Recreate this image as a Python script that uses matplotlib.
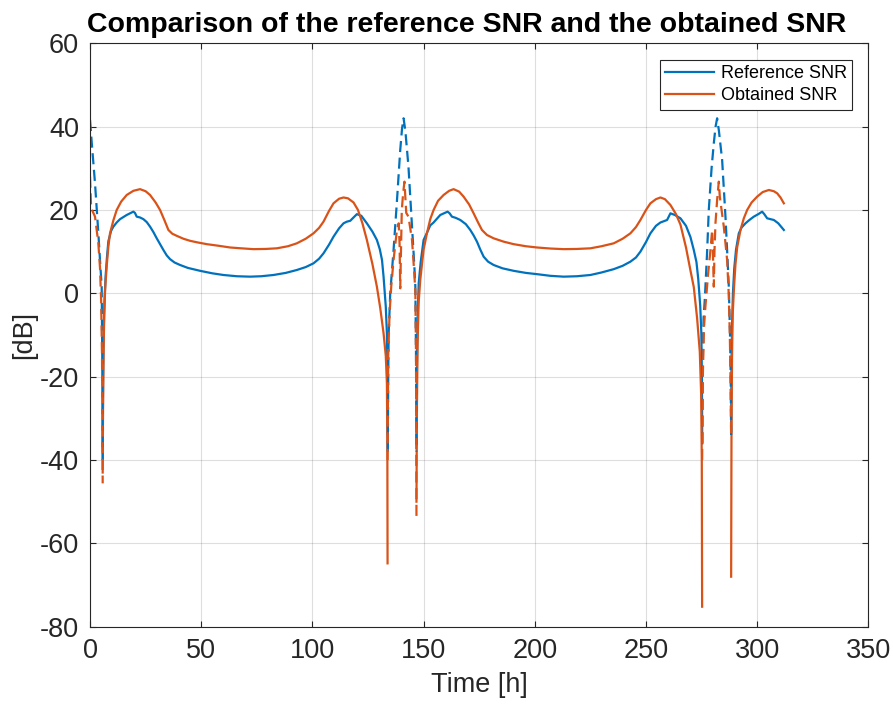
import numpy as np
import matplotlib
matplotlib.use("Agg")
import matplotlib.pyplot as plt

plt.rcParams['font.family'] = ['Liberation Sans', 'DejaVu Sans']
plt.rcParams['axes.unicode_minus'] = False

# (time [h], SNR [dB])
# solid parts = visible arcs, dashed parts = gaps between them
ref_gap0 = np.array([(0, 41.6), (0.8, 36), (2.25, 26.4), (3.75, 14.4), (4.6, 7), (5.25, 1.6),
                     (5.5, -15), (5.7, -40)])
obt_gap0 = np.array([(0, 28), (0.2, 25), (0.5, 20.5), (1.5, 19.3), (2.25, 18.4), (3.75, 12),
                     (4.5, 6), (5.0, -1.6), (5.4, -15), (5.7, -45.6)])

ref_arc1 = np.array([(5.7, -38), (5.85, -22), (6.1, -10), (6.5, -2), (7.0, 4), (7.6, 8.5),
                     (8.25, 12.5), (9.5, 15), (10.5, 16), (12, 17), (13.5, 17.8), (16.5, 18.8),
                     (19.5, 19.6), (20.2, 19.3), (21, 18.4), (22.5, 18.2), (24, 17.8),
                     (25.5, 17.1), (27, 16), (28.5, 14.7), (30, 13.2), (31.5, 11.8), (33, 10.4),
                     (34.5, 9.1), (36, 8.2), (38, 7.4), (40.5, 6.8), (44, 6.1), (49.5, 5.4),
                     (55, 4.8), (60, 4.4), (66, 4.1), (72, 4.0), (77, 4.1), (82.5, 4.4),
                     (88, 4.9), (93, 5.6), (97, 6.3), (100.5, 7.2), (103, 8.3), (105, 9.6),
                     (107.5, 11.7), (109.5, 13.6), (112, 15.6), (114, 16.8), (115.5, 17.2),
                     (117, 17.4), (118.5, 18.2), (120, 19.0), (122, 18.6), (124.5, 16.8),
                     (127, 14.8), (129, 12.8), (130.3, 10.6), (131.3, 8), (132, 4), (133, -3.2),
                     (133.5, -9.6), (133.75, -20), (133.9, -37)])
obt_arc1 = np.array([(5.7, -43), (5.85, -28), (6.1, -14), (6.4, -5), (6.8, 1), (7.5, 6.5),
                     (8.25, 11.2), (9, 14.4), (10.5, 17.5), (12, 20), (14, 22), (16.5, 23.6),
                     (19.5, 24.6), (22.5, 25), (25, 24.5), (27, 23.6), (29.5, 21.8), (31.5, 20),
                     (33.5, 17.5), (35.25, 15.2), (37, 14.3), (39, 13.8), (42, 13.1), (45, 12.6),
                     (48.5, 12.2), (52.5, 11.8), (58, 11.4), (63, 11.0), (68, 10.8), (73.5, 10.6),
                     (79, 10.65), (84, 10.8), (89, 11.3), (93, 12.0), (97, 13.1), (100.5, 14.4),
                     (103, 15.7), (105, 17.2), (107.5, 19.8), (109.5, 21.6), (112, 22.7),
                     (114, 23), (116, 22.8), (118.5, 21.8), (120.5, 20), (122.5, 16.8),
                     (124.5, 12.8), (127, 7), (129, 1.6), (130.5, -3.5), (132, -9.6), (133, -15),
                     (133.5, -21.6), (133.7, -35), (133.8, -64.8)])

ref_gap1 = np.array([(133.9, -38), (134.1, -20), (134.3, -9.6), (135, 0), (136.5, 10.4),
                     (138, 22), (139.5, 34.4), (140.3, 39.5), (141.0, 42), (141.8, 39),
                     (143.2, 30.4), (144.8, 16), (145.8, 7), (146.3, 1.6), (146.6, -15),
                     (146.8, -38)])
obt_gap1 = np.array([(133.8, -40), (134.1, -15), (134.7, -4.8), (135.5, 2), (136.5, 8),
                     (138, 15.2), (138.8, 16.8), (139.2, 12), (139.5, 1.2), (139.9, 12),
                     (140.2, 20), (140.8, 24), (141.4, 26.8), (141.8, 23), (142.2, 19.3),
                     (143.2, 18.4), (144.8, 12.8), (145.8, 5), (146.3, 0.4), (146.6, -15),
                     (146.8, -53.6)])

ref_arc2 = np.array([(146.8, -36), (147.0, -18), (147.3, -6), (147.8, 2.4), (148.7, 7.5),
                     (150, 12.8), (151.5, 14.5), (153, 16.3), (154.5, 17), (157.5, 18.8),
                     (160.8, 19.6), (161.7, 19.2), (162.75, 18.4), (164.5, 18.1), (166.5, 17.6),
                     (169, 16.6), (171, 15.2), (172.5, 13.9), (174, 12.4), (175.5, 10.5),
                     (177, 8.8), (179, 7.6), (181.5, 6.8), (185.5, 6.0), (190.5, 5.4),
                     (196, 4.9), (201, 4.6), (207, 4.2), (213, 4.0), (219, 4.1), (225, 4.4),
                     (230, 5.0), (235.5, 5.8), (239.5, 6.6), (243, 7.6), (245.5, 8.6),
                     (247.5, 10), (250, 12.3), (252, 14.4), (254.5, 16.2), (256.5, 17),
                     (259.5, 17.6), (261, 19.2), (263, 18.8), (265.5, 18), (268, 16.2),
                     (270, 13.5), (271.5, 10.4), (272.7, 7.5), (273.5, 3.5), (274.4, -3),
                     (274.9, -9.6), (275.15, -20), (275.3, -36)])
obt_arc2 = np.array([(146.8, -50), (147.0, -28), (147.3, -12), (147.8, -2), (148.5, 3.2),
                     (150, 10.5), (151.5, 14.4), (153, 17.8), (154.5, 20), (156.5, 22.2),
                     (159, 23.6), (161.5, 24.6), (163.5, 25), (166, 24.4), (168, 23.2),
                     (170.5, 21.3), (172.5, 19.2), (174.5, 17), (176.25, 15.2), (178.5, 14),
                     (181.5, 13.2), (186, 12.4), (190.5, 11.8), (196, 11.3), (201, 11.0),
                     (207, 10.75), (213, 10.6), (219, 10.65), (225, 10.8), (230, 11.3),
                     (235.5, 12), (239.5, 13.1), (243, 14.4), (245.5, 15.9), (247.5, 17.6),
                     (250, 20), (252, 21.6), (254.5, 22.6), (256.5, 23), (258.5, 22.6),
                     (261, 21.2), (263.5, 19), (265.5, 16.5), (268, 11), (270, 5.5),
                     (271.5, 1.5), (273, -6), (274.2, -14), (274.8, -24), (275.1, -40),
                     (275.25, -75.2)])

ref_gap2 = np.array([(275.3, -36), (275.5, -18), (275.9, -6), (276.5, -1), (277.5, 10),
                     (278.25, 20), (279.5, 30), (280.5, 36), (281.3, 40), (282, 42),
                     (282.8, 39), (284.25, 32), (285.75, 18.4), (286.7, 8), (287.25, 1.6),
                     (287.8, -10), (288.1, -20), (288.3, -34)])
obt_gap2 = np.array([(275.25, -40), (275.6, -19), (276.1, -8), (276.75, -3), (278, 5),
                     (279, 10.4), (279.75, 15.2), (280.1, 10), (280.5, 1.6), (280.8, 10),
                     (281.25, 16.8), (282, 22.4), (282.75, 26.8), (283.2, 23.2), (283.8, 20.8),
                     (285, 16), (286.5, 8), (287.2, 0), (287.7, -9.6), (288.0, -20),
                     (288.3, -34)])

ref_arc3 = np.array([(288.3, -33), (288.45, -18), (288.7, -8), (289.1, 0), (289.7, 6),
                     (290.5, 10.5), (291.75, 14.4), (293, 15.8), (294.75, 16.8), (296.5, 17.6),
                     (298.5, 18.4), (300.5, 19.0), (302.25, 19.6), (303.2, 19.0), (304.5, 18.0),
                     (306, 17.8), (307.5, 17.6), (309.5, 16.8), (312, 15.2)])
obt_arc3 = np.array([(288.3, -68), (288.45, -35), (288.7, -15), (289.0, -5), (289.6, 1.5),
                     (290.25, 7), (291, 11), (292.5, 15.2), (294, 18), (295.5, 20),
                     (297.5, 21.8), (300, 23.2), (302.5, 24.3), (305.25, 24.8), (307.5, 24.5),
                     (309, 24), (310.5, 23), (312, 21.6)])

ref_arcs = [ref_arc1, ref_arc2, ref_arc3]
obt_arcs = [obt_arc1, obt_arc2, obt_arc3]
ref_gaps = [ref_gap0, ref_gap1, ref_gap2]
obt_gaps = [obt_gap0, obt_gap1, obt_gap2]

x_ticks = np.arange(0, 351, 50)
y_ticks = np.arange(-80, 61, 20)

blue = '#0072BD'
orange = '#D95319'
axcol = '#262626'

fig = plt.figure(figsize=(8.93, 7.04), dpi=100)
ax = fig.add_axes([0.1008, 0.1098, 0.8716, 0.8287])

dash = (0, (5, 2.5))
for i, seg in enumerate(ref_arcs):
    ax.plot(seg[:, 0], seg[:, 1], color=blue, lw=1.6, solid_joinstyle='round',
            label='Reference SNR' if i == 0 else None)
for i, seg in enumerate(obt_arcs):
    ax.plot(seg[:, 0], seg[:, 1], color=orange, lw=1.6, solid_joinstyle='round',
            label='Obtained SNR' if i == 0 else None)
for seg in ref_gaps:
    ax.plot(seg[:, 0], seg[:, 1], color=blue, lw=1.6, ls=dash)
for seg in obt_gaps:
    ax.plot(seg[:, 0], seg[:, 1], color=orange, lw=1.6, ls=dash)

ax.set_xlim(0, 350)
ax.set_ylim(-80, 60)
ax.set_xticks(x_ticks)
ax.set_yticks(y_ticks)
ax.grid(True, color=axcol, alpha=0.15, lw=0.8)
ax.set_axisbelow(True)
for s in ax.spines.values():
    s.set_color(axcol)
    s.set_linewidth(0.8)
ax.tick_params(direction='in', length=4, width=0.8, colors=axcol, labelsize=19.5,
               top=True, right=True, pad=8)

ax.set_xlabel('Time [h]', fontsize=19.5, color=axcol, labelpad=6)
ax.set_ylabel('[dB]', fontsize=19.5, color=axcol, labelpad=2)
ax.set_title('Comparison of the reference SNR and the obtained SNR', fontsize=20.5,
             fontweight='bold', pad=8, x=0.4845)

leg = ax.legend(loc='upper right', fontsize=13, fancybox=False, framealpha=1,
                edgecolor=axcol, handlelength=2.7, handletextpad=0.35, labelspacing=0.3,
                borderaxespad=0.9, borderpad=0.3)
leg.get_frame().set_linewidth(0.8)

fig.savefig('out.png', dpi=100)
